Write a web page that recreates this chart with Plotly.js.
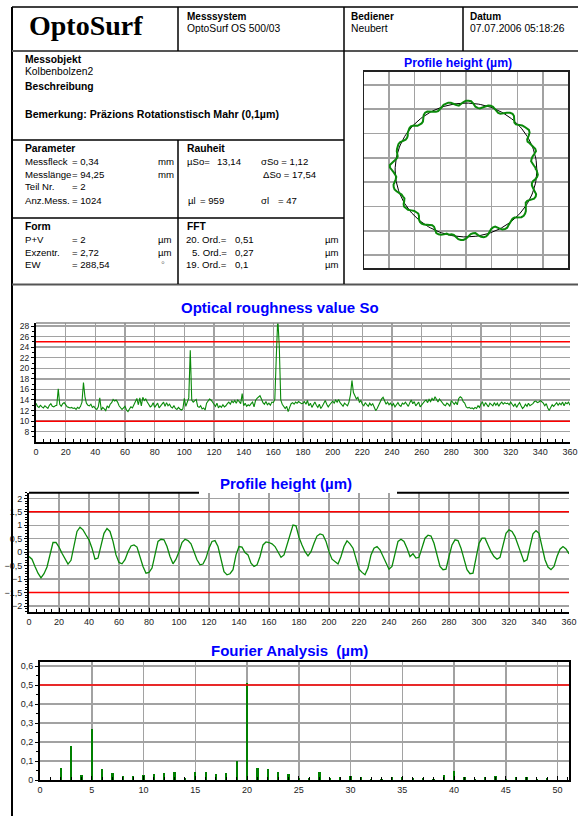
<!DOCTYPE html>
<html>
<head>
<meta charset="utf-8">
<script src="https://cdn.plot.ly/plotly-3.0.1.min.js"></script>
<style>
html,body{margin:0;padding:0;background:#fff;}
#chart{width:578px;height:816px;}
</style>
</head>
<body>
<div id="chart"></div>
<script>
// ---------------- DATA ----------------
// Optical roughness value So, one value per degree 0..360
const roughDeg = [];
for (let d = 0; d <= 360; d++) roughDeg.push(d);
const roughSo = [
  13.4,12.8,12.6,13.0,12.7,12.5,12.9,12.6,12.4,13.0,
  13.3,12.8,12.7,12.9,13.0,16.1,13.2,12.8,13.3,13.5,
  13.1,12.7,12.6,12.5,12.6,12.4,12.5,12.2,12.6,12.4,
  12.8,13.6,17.3,14.6,13.4,13.0,12.9,13.2,12.6,12.8,
  12.4,12.2,12.7,14.4,12.1,12.6,12.3,12.0,12.9,12.5,
  13.2,13.5,14.1,13.8,14.0,13.6,12.9,12.6,12.2,12.5,
  12.8,12.1,11.8,12.3,12.7,12.5,13.2,13.6,14.3,13.1,
  14.4,12.9,14.5,13.9,14.2,13.6,13.1,12.7,12.9,13.5,
  12.6,12.9,13.4,12.5,12.8,13.3,13.6,12.8,13.5,12.9,
  13.2,12.7,12.5,12.9,12.4,12.2,12.6,12.3,12.1,12.3,
  14.3,12.8,13.5,14.4,23.4,14.0,13.6,13.9,14.1,12.8,
  12.6,12.9,12.3,12.5,12.1,13.4,13.9,14.2,14.0,13.5,
  13.2,12.8,13.4,12.5,12.9,12.6,13.1,12.7,12.9,13.3,
  13.6,13.2,13.8,13.5,13.9,13.4,14.0,13.7,13.3,15.2,
  12.9,13.4,12.8,13.1,12.9,13.3,13.6,12.7,13.9,14.3,
  14.6,14.8,14.2,13.5,13.2,13.7,13.1,13.4,13.0,13.6,
  13.5,14.1,22.2,29.5,24.2,14.0,13.2,12.9,12.4,12.8,
  11.8,12.6,13.3,13.5,13.2,13.6,13.4,13.7,13.5,13.3,
  13.4,13.7,13.2,13.9,12.9,13.4,12.6,13.1,13.6,13.0,
  12.6,13.2,12.4,12.8,13.5,13.9,13.2,12.7,13.1,13.5,
  13.8,13.4,14.0,13.6,14.1,13.5,13.2,12.8,13.4,13.1,
  12.9,13.6,15.0,17.7,15.4,14.8,14.2,14.5,13.6,13.9,
  13.2,12.9,13.5,13.1,12.8,13.4,13.0,13.3,12.6,12.0,
  12.4,13.1,13.6,14.2,14.5,13.8,13.2,13.6,13.1,13.4,
  12.9,13.3,12.7,13.1,13.5,13.0,12.8,13.4,13.2,13.6,
  13.1,12.8,13.5,14.0,13.3,13.7,12.9,13.2,13.6,12.7,
  13.1,13.4,13.8,14.0,13.5,14.1,13.7,14.3,13.9,14.6,
  14.0,13.6,14.2,13.8,13.4,13.1,12.9,13.4,13.2,12.8,
  13.9,13.5,13.2,13.6,13.1,14.3,14.6,14.4,13.7,13.4,
  12.7,12.5,12.6,12.4,12.5,12.3,12.6,12.4,12.9,12.6,
  13.3,13.6,12.8,13.5,13.1,12.7,13.4,13.2,12.9,13.5,
  13.0,13.4,12.8,13.3,13.6,13.2,13.5,13.3,13.4,13.1,
  13.6,13.2,12.8,13.3,12.6,13.1,13.5,12.9,12.4,12.7,
  13.2,12.8,13.4,12.9,13.1,13.3,13.7,13.8,13.5,13.6,
  13.9,13.7,13.4,12.9,13.3,12.5,12.0,12.6,13.1,12.8,
  13.2,13.5,13.0,13.4,13.1,13.6,12.9,13.5,13.3,13.6,13.0
];
const roughLimits = [10, 25];

// Profile height (µm), one value every 2 degrees 0..360
const profDeg = [];
for (let d = 0; d <= 360; d += 2) profDeg.push(d);
const profHeight = [
  -0.16,-0.26,-0.53,-0.78,-0.95,-0.80,-0.55,-0.10,0.36,0.36,
  0.19,-0.04,-0.22,-0.44,-0.30,0.27,0.77,0.93,0.83,0.64,
  0.46,0.15,-0.26,-0.22,0.27,0.70,0.88,0.77,0.40,-0.10,
  -0.38,-0.43,-0.28,0.02,0.23,0.27,0.19,-0.16,-0.53,-0.78,
  -0.75,-0.59,-0.04,0.40,0.48,0.46,0.21,-0.16,-0.43,-0.26,
  0.02,0.36,0.48,0.43,0.31,-0.01,-0.28,-0.47,-0.44,-0.22,
  0.15,0.40,0.43,0.21,-0.28,-0.72,-0.84,-0.80,-0.65,-0.10,
  0.21,0.19,-0.01,-0.10,-0.41,-0.53,-0.47,-0.16,0.27,0.38,
  0.36,0.31,0.21,0.02,-0.19,-0.10,0.27,0.70,1.01,0.98,
  0.55,0.27,0.02,-0.14,0.02,0.33,0.60,0.68,0.64,0.40,
  0.02,-0.26,-0.35,-0.44,-0.16,0.21,0.42,0.31,0.15,-0.26,
  -0.63,-0.75,-0.84,-0.59,-0.10,0.15,0.21,0.09,-0.16,-0.44,
  -0.63,-0.53,-0.04,0.40,0.48,0.40,0.15,-0.16,-0.06,-0.22,
  -0.19,0.21,0.52,0.63,0.60,0.33,-0.16,-0.53,-0.65,-0.63,
  -0.16,0.27,0.46,0.43,0.15,-0.28,-0.65,-0.80,-0.78,-0.22,
  0.33,0.52,0.52,0.27,0.02,-0.16,-0.26,-0.19,0.21,0.70,
  0.83,0.77,0.58,0.27,-0.10,-0.35,-0.28,0.21,0.68,0.80,
  0.70,0.21,-0.28,-0.55,-0.65,-0.53,-0.16,0.11,0.21,0.12,
  -0.06
];
const profLimits = [-1.5, 1.5];

// Fourier analysis (µm), orders 1..50
const fftOrder = [];
for (let o = 1; o <= 50; o++) fftOrder.push(o);
const fftAmp = [
  0.000,0.063,0.177,0.025,0.268,0.058,0.035,0.021,0.021,0.026,
  0.030,0.035,0.042,0.010,0.042,0.042,0.032,0.037,0.100,0.509,
  0.063,0.058,0.042,0.032,0.010,0.010,0.042,0.010,0.016,0.021,
  0.016,0.004,0.004,0.016,0.016,0.010,0.010,0.004,0.026,0.047,
  0.014,0.003,0.017,0.021,0.003,0.017,0.017,0.004,0.010,0.000
];
const fftLimits = [0.5];

// Polar view: reference radius (display units) the profile is wrapped on
const polarRadius = 13.2;

// ---------------- LAYOUT HELPERS ----------------
const W = 578, H = 816;
const px = x => x / W;
const py = y => 1 - y / H;
const FONT = 'Liberation Sans, Arial, sans-serif';
const GREEN = '#0a8a0a';
const GRID = '#a2a2a2';
const RED = '#ff0000';

const ann = [];
function txt(t, x, y, o) {
  o = o || {};
  ann.push({
    text: t, xref: 'paper', yref: 'paper', x: px(x), y: py(y),
    xanchor: o.anchor || 'left', yanchor: 'middle', showarrow: false,
    font: {family: o.family || FONT, size: o.size || 9.6, color: o.color || '#000',
           weight: o.bold ? 'bold' : 'normal'},
    borderpad: 0
  });
}
const B = {bold: true, size: 10.3};
const HV = {size: 10.3};

// header
txt('OptoSurf', 28, 25, {family: 'Liberation Serif, Times New Roman, serif', size: 28, bold: true});
txt('Messsystem', 186, 16, {bold: true, size: 10});
txt('OptoSurf OS 500/03', 186, 29, HV);
txt('Bediener', 350, 16, {bold: true, size: 10});
txt('Neubert', 350, 29, HV);
txt('Datum', 469, 16, {bold: true, size: 10});
txt('07.07.2006 05:18:26', 469, 29, HV);
// object block
txt('Messobjekt', 24, 60, B);
txt('Kolbenbolzen2', 24, 71, HV);
txt('Beschreibung', 24, 87, B);
txt('Bemerkung: Präzions Rotationstisch Mahr (0,1µm)', 24, 114, {bold: true, size: 10.6});
// parameter block
txt('Parameter', 24, 148, B);
const pRows = [162, 174.5, 187, 200];
const eqX = 71;
txt('Messfleck', 24, pRows[0]); txt('= 0,34', eqX, pRows[0]); txt('mm', 157, pRows[0]);
txt('Messlänge', 24, pRows[1]); txt('= 94,25', eqX, pRows[1]); txt('mm', 157, pRows[1]);
txt('Teil Nr.', 24, pRows[2]); txt('= 2', eqX, pRows[2]);
txt('Anz.Mess.', 24, pRows[3]); txt('= 1024', eqX, pRows[3]);
txt('Rauheit', 186, 148, B);
txt('µSo=', 186, pRows[0]); txt('13,14', 216, pRows[0]);
txt('σSo = 1,12', 260, pRows[0]);
txt('ΔSo = 17,54', 262, pRows[1]);
txt('µl', 187, pRows[3]); txt('= 959', 199, pRows[3]);
txt('σl', 260, pRows[3]); txt('= 47', 277, pRows[3]);
// form block
const fRows = [239, 252, 265];
txt('Form', 24, 226, B);
txt('P+V', 24, fRows[0]); txt('= 2', eqX, fRows[0]); txt('µm', 157, fRows[0]);
txt('Exzentr.', 24, fRows[1]); txt('= 2,72', eqX, fRows[1]); txt('µm', 157, fRows[1]);
txt('EW', 24, fRows[2]); txt('= 288,54', eqX, fRows[2]); txt('°', 160, fRows[2], {color: '#777'});
txt('FFT', 186, 226, B);
txt('20. Ord.=', 228, fRows[0], {anchor: 'right'}); txt('0,51', 234, fRows[0]); txt('µm', 324, fRows[0]);
txt('5. Ord.=', 228, fRows[1], {anchor: 'right'}); txt('0,27', 234, fRows[1]); txt('µm', 324, fRows[1]);
txt('19. Ord.=', 228, fRows[2], {anchor: 'right'}); txt('0,1', 234, fRows[2]); txt('µm', 324, fRows[2]);

// chart titles
const TB = {bold: true, color: '#0000ff', anchor: 'center'};
txt('Profile height (µm)', 457.5, 62.5, Object.assign({size: 12.3}, TB));
txt('Optical roughness value So', 280, 307, Object.assign({size: 15}, TB));
txt('Profile height (µm)', 286, 483, Object.assign({size: 15}, TB));
txt('Fourier Analysis\u00a0 (µm)', 289.5, 650, Object.assign({size: 15}, TB));

// table & frame lines
const shapes = [];
function ln(x0, y0, x1, y1, c, w) {
  shapes.push({type: 'line', xref: 'paper', yref: 'paper', x0: px(x0), y0: py(y0), x1: px(x1), y1: py(y1),
               line: {color: c || '#000', width: w || 1.5}, layer: 'above'});
}
ln(12, 7, 12, 816, '#000', 2);
ln(12, 7, 578, 7, '#000', 1.5);
ln(12, 51, 578, 51, '#555', 2);
ln(12, 140, 344, 140, '#000', 1.5);
ln(12, 218, 344, 218, '#000', 1.5);
ln(12, 284.5, 578, 284.5, '#555', 2);
ln(178, 7, 178, 51, '#000', 1.5);
ln(463, 7, 463, 51, '#000', 1.5);
ln(344, 7, 344, 284, '#000', 1.5);
ln(178, 140, 178, 284, '#000', 1.5);
// roughness top frame (grey), profile top frame (black, interrupted by title)
ln(36, 323, 570, 323, '#8a8a8a', 1.5);
ln(29, 492.7, 199, 492.7, '#000', 2);
ln(397, 492.7, 569, 492.7, '#000', 2);

// axis ranges
const polXR = [-19, 19], polYR = [-19.33, 19.43];
const roughXR = [0, 360], roughYR = [6.05, 28.57];
const profXR = [0, 360], profYR = [-2.21, 2.21];
const fftXR = [0, 51.1], fftYR = [0, 0.623];

// polar profile coordinates derived from profile data
const polX = [], polY = [], refX = [], refY = [];
for (let i = 0; i < profDeg.length; i++) {
  const r = polarRadius + profHeight[i];
  const t = profDeg[i] * Math.PI / 180;
  polX.push(r * Math.cos(t));
  polY.push(r * Math.sin(t));
  refX.push(polarRadius * Math.cos(t));
  refY.push(polarRadius * Math.sin(t));
}

const traces = [];
function limitTrace(xr, v, xa, ya) {
  traces.push({x: xr, y: [v, v], xaxis: xa, yaxis: ya, type: 'scatter', mode: 'lines',
               line: {color: RED, width: 1.5}, hoverinfo: 'skip'});
}
traces.push({x: refX, y: refY, xaxis: 'x', yaxis: 'y', type: 'scatter', mode: 'lines',
             line: {color: '#000', width: 1}, hoverinfo: 'skip'});
traces.push({x: polX, y: polY, xaxis: 'x', yaxis: 'y', type: 'scatter', mode: 'lines',
             line: {color: GREEN, width: 2}, hoverinfo: 'skip'});
roughLimits.forEach(v => limitTrace(roughXR, v, 'x2', 'y2'));
traces.push({x: roughDeg, y: roughSo, xaxis: 'x2', yaxis: 'y2', type: 'scatter', mode: 'lines',
             line: {color: GREEN, width: 1.1}});
profLimits.forEach(v => limitTrace(profXR, v, 'x3', 'y3'));
traces.push({x: profDeg, y: profHeight, xaxis: 'x3', yaxis: 'y3', type: 'scatter', mode: 'lines',
             line: {color: GREEN, width: 1.3}});
fftLimits.forEach(v => limitTrace(fftXR, v, 'x4', 'y4'));
traces.push({x: fftOrder, y: fftAmp, xaxis: 'x4', yaxis: 'y4', type: 'bar', width: 0.22,
             marker: {color: '#008000', line: {width: 0}}});

const tickFont = {family: FONT, size: 9, color: '#222'};
const baseX = {showgrid: true, gridcolor: GRID, gridwidth: 1.5, zeroline: false, showline: true,
  linecolor: '#000', linewidth: 2, ticks: 'inside', ticklen: 4, tickcolor: '#000', tickfont: tickFont, fixedrange: true};
const baseY = {showgrid: true, gridcolor: GRID, gridwidth: 1.5, zeroline: false, showline: true,
  linecolor: '#000', linewidth: 2, ticks: 'outside', ticklen: 3, tickcolor: '#000', tickfont: tickFont, fixedrange: true};

const layout = {
  width: W, height: H, margin: {l: 0, r: 0, t: 0, b: 0},
  paper_bgcolor: '#fff', plot_bgcolor: '#fff', showlegend: false,
  separators: ',.', bargap: 0,
  xaxis: {domain: [px(364), px(568)], range: polXR, anchor: 'y', dtick: 4.79, tick0: 0,
    showgrid: true, gridcolor: GRID, gridwidth: 1.5, zeroline: false, showticklabels: false,
    showline: true, mirror: true, linecolor: '#222', linewidth: 1.5, ticks: '', fixedrange: true},
  yaxis: {domain: [py(268), py(71.5)], range: polYR, anchor: 'x', dtick: 4.8, tick0: 2.4,
    showgrid: true, gridcolor: GRID, gridwidth: 1.5, zeroline: false, showticklabels: false,
    showline: true, mirror: true, linecolor: '#222', linewidth: 1.5, ticks: '', fixedrange: true},
  xaxis2: Object.assign({}, baseX, {domain: [px(36), px(570)], range: roughXR, anchor: 'y2', dtick: 20, tick0: 0,
    minor: {dtick: 5, ticks: 'inside', ticklen: 3, tickcolor: '#000', showgrid: false}}),
  yaxis2: Object.assign({}, baseY, {domain: [py(442), py(323)], range: roughYR, anchor: 'x2', dtick: 2, tick0: 0,
    tickfont: {family: FONT, size: 8.5, color: '#222'},
    minor: {dtick: 1, ticks: 'outside', ticklen: 2, tickcolor: '#000', showgrid: false}}),
  xaxis3: Object.assign({}, baseX, {domain: [px(29), px(569)], range: profXR, anchor: 'y3', dtick: 20, tick0: 0,
    minor: {dtick: 5, ticks: 'inside', ticklen: 3, tickcolor: '#000', showgrid: false}}),
  yaxis3: Object.assign({}, baseY, {domain: [py(611.7), py(492.7)], range: profYR, anchor: 'x3', dtick: 0.5, tick0: 0,
    minor: {dtick: 0.1, ticks: 'outside', ticklen: 2, tickcolor: '#000', showgrid: false}}),
  xaxis4: Object.assign({}, baseX, {domain: [px(40), px(569)], range: fftXR, anchor: 'y4', dtick: 5, tick0: 0,
    mirror: true, minor: {dtick: 1, ticks: 'inside', ticklen: 3, tickcolor: '#000', showgrid: false}}),
  yaxis4: Object.assign({}, baseY, {domain: [py(780), py(661.7)], range: fftYR, anchor: 'x4', dtick: 0.1, tick0: 0,
    mirror: true, minor: {dtick: 0.05, ticks: 'outside', ticklen: 2, tickcolor: '#000', showgrid: false}}),
  annotations: ann,
  shapes: shapes
};

Plotly.newPlot('chart', traces, layout, {staticPlot: true, displayModeBar: false});
</script>
</body>
</html>
